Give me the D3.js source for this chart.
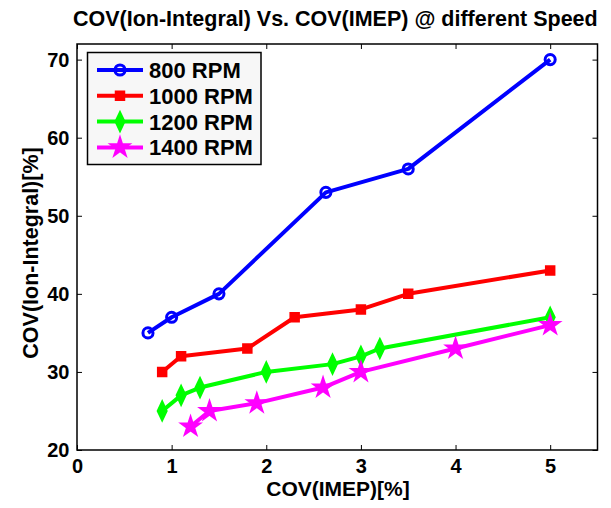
<!DOCTYPE html>
<html><head><meta charset="utf-8">
<script src="https://cdn.jsdelivr.net/npm/d3@7"></script>
<style>body{margin:0;background:#fff}svg{display:block}text{font-family:"Liberation Sans",Arial,sans-serif}</style>
</head><body>
<svg id="c" width="611" height="508"></svg>
<script>
const seriesNames = ["800 RPM","1000 RPM","1200 RPM","1400 RPM"];
const seriesColors = ["#0000ff","#ff0000","#00ff00","#ff00ff"];
const seriesMarkers = ["circle","square","diamond","star"];
const x800 = [0.75,1.0,1.5,2.63,3.5,5.0];
const y800 = [35,37,40,53,56,70];
const x1000 = [0.9,1.1,1.8,2.3,3.0,3.5,5.0];
const y1000 = [30,32,33,37,38,40,43];
const x1200 = [0.9,1.1,1.3,2.0,2.7,3.0,3.2,5.0];
const y1200 = [25,27,28,30,31,32,33,37];
const x1400 = [1.2,1.4,1.9,2.6,3.0,4.0,5.0];
const y1400 = [23,25,26,28,30,33,36];
const xTicks = [0,1,2,3,4,5];
const yTicks = [20,30,40,50,60,70];
const titleText = "COV(Ion-Integral) Vs. COV(IMEP) @ different Speed";
const xLabel = "COV(IMEP)[%]";
const yLabel = "COV(Ion-Integral)[%]";

const series = [[x800,y800],[x1000,y1000],[x1200,y1200],[x1400,y1400]].map((s,i)=>({
  name: seriesNames[i], color: seriesColors[i], marker: seriesMarkers[i],
  pts: s[0].map((x,j)=>[x,s[1][j]])
}));

const svg = d3.select("#c");
const L=77, R=597.5, T=44, B=450;
const x = d3.scaleLinear().domain([0,5.5]).range([L,R]);
const y = d3.scaleLinear().domain([20,72]).range([B,T]);

svg.append("rect").attr("x",L).attr("y",T).attr("width",R-L).attr("height",B-T)
  .attr("fill","#fff").attr("stroke","#000").attr("stroke-width",1.5);

const tl = 5;
const gx = svg.append("g").attr("transform",`translate(0,${B})`)
  .call(d3.axisBottom(x).tickValues(xTicks).tickFormat(d3.format("d")).tickSize(-tl).tickPadding(8.5));
const gxt = svg.append("g").attr("transform",`translate(0,${T})`)
  .call(d3.axisTop(x).tickValues(xTicks).tickFormat("").tickSize(-tl));
const gy = svg.append("g").attr("transform",`translate(${L},0)`)
  .call(d3.axisLeft(y).tickValues(yTicks).tickFormat(d3.format("d")).tickSize(-tl).tickPadding(7.5));
const gyr = svg.append("g").attr("transform",`translate(${R},0)`)
  .call(d3.axisRight(y).tickValues(yTicks).tickFormat("").tickSize(-tl));
[gx,gxt,gy,gyr].forEach(g=>{
  g.select(".domain").remove();
  g.selectAll(".tick line").attr("stroke","#000").attr("stroke-width",1);
  g.selectAll("text").attr("fill","#000").attr("font-size",20).attr("font-weight","bold")
   .style("font-family","'Liberation Sans',Arial,sans-serif");
});
gx.selectAll("text").attr("dy","0.71em");

const symSize = {circle:80, square:56, diamond:70, star:75};
function markerPath(m){
  const t = {circle:d3.symbolCircle, square:d3.symbolSquare, diamond:d3.symbolDiamond, star:d3.symbolStar}[m];
  return d3.symbol().type(t).size(symSize[m])();
}
function drawMarker(g, s, px, py){
  const p = g.append("path").attr("d",markerPath(s.marker))
    .attr("transform",`translate(${px},${py})`)
    .attr("stroke",s.color).attr("stroke-width",3).attr("stroke-linejoin","miter");
  if(s.marker==="star" || s.marker==="square" || s.marker==="diamond") p.attr("fill",s.color); else p.attr("fill","none");
  if(s.marker==="diamond") p.attr("transform",`translate(${px},${py}) scale(0.9,1.1)`);
}

const line = d3.line().x(d=>x(d[0])).y(d=>y(d[1]));
const plot = svg.append("g");
series.forEach(s=>{
  plot.append("path").attr("d",line(s.pts)).attr("fill","none")
    .attr("stroke",s.color).attr("stroke-width",4).attr("stroke-linejoin","round");
  s.pts.forEach(p=>drawMarker(plot,s,x(p[0]),y(p[1])));
});

// legend
const lg = svg.append("g");
lg.append("rect").attr("x",87.5).attr("y",52.5).attr("width",173.5).attr("height",112)
  .attr("fill","#f7f7f7").attr("stroke","#000").attr("stroke-width",1.5);
series.forEach((s,i)=>{
  const cy = 70 + i*25.8;
  lg.append("line").attr("x1",97).attr("x2",143).attr("y1",cy).attr("y2",cy)
    .attr("stroke",s.color).attr("stroke-width",4);
  drawMarker(lg,s,120,cy);
  lg.append("text").attr("x",149).attr("y",cy).attr("dy","0.36em")
    .attr("font-size",22).attr("font-weight","bold").text(s.name);
});

// title & labels
const title = svg.append("text").attr("x",73).attr("y",25.5)
  .attr("font-size",21).attr("font-weight","bold").text(titleText);
const tw = title.node().getComputedTextLength();
title.attr("font-size", 21*525/tw);
svg.append("text").attr("x",338).attr("y",496).attr("text-anchor","middle")
  .attr("font-size",21).attr("font-weight","bold").text(xLabel);
svg.append("text").attr("transform",`translate(38,253) rotate(-90)`).attr("text-anchor","middle")
  .attr("font-size",21.5).attr("font-weight","bold").text(yLabel);
</script>
</body></html>
